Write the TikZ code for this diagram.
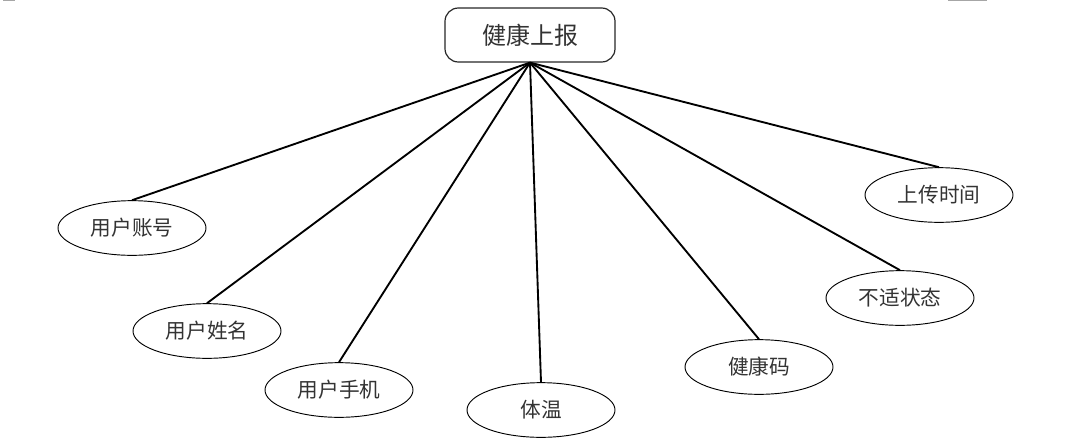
\documentclass[tikz,border=0pt]{standalone}
\usepackage{fontspec}
\newfontfamily\cjk{Noto Sans CJK SC}
\usetikzlibrary{shapes.geometric}
\begin{document}
\begin{tikzpicture}[x=0.75pt,y=-0.75pt,
  topbox/.style={draw=black!85, line width=0.9pt, rounded corners=10pt, minimum width=127.5pt, minimum height=40.5pt, inner sep=0pt, font=\cjk\fontsize{18}{20}\selectfont, text=black!80},
  attr/.style={draw=black, line width=0.7pt, ellipse, minimum width=111pt, minimum height=41pt, inner sep=0pt, font=\cjk\fontsize{15.5}{18}\selectfont, text=black!80},
  link/.style={line width=1.4pt, black}]
\useasboundingbox (0,0) rectangle (1070,447);
\draw[gray!70, line width=1pt] (3,0.5) -- (15,0.5);
\draw[gray!70, line width=1pt] (948,0.5) -- (987,0.5);
\node[topbox] (top) at (530,35) {健康上报};
\node[attr] (a1) at (132,228) {用户账号};
\node[attr] (a2) at (207,331) {用户姓名};
\node[attr] (a3) at (339,390) {用户手机};
\node[attr] (a4) at (541,410) {体温};
\node[attr] (a5) at (759,367) {健康码};
\node[attr] (a6) at (900,298) {不适状态};
\node[attr] (a7) at (939,195) {上传时间};
\foreach \n in {a1,a2,a3,a4,a5,a6,a7}
  \draw[link] (top.south) -- (\n.north);
\end{tikzpicture}
\end{document}
